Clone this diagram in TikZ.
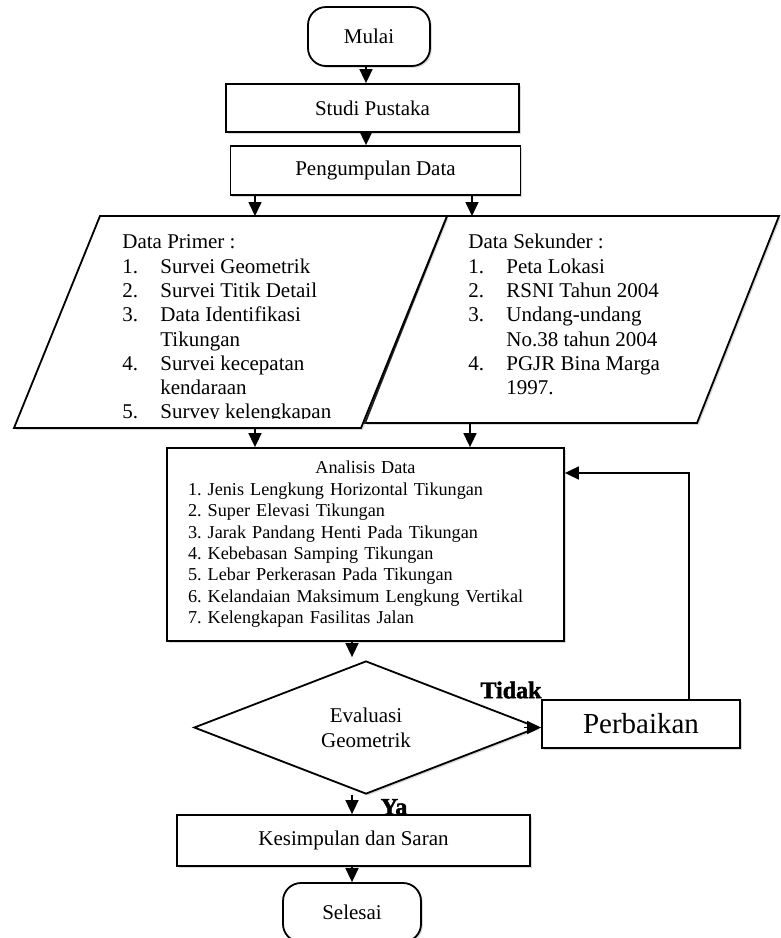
\documentclass[tikz,border=0pt]{standalone}
\usepackage{fontspec}
\setmainfont{Liberation Serif}
\newfontfamily\tebal[FakeBold=2]{Liberation Serif}
\usetikzlibrary{arrows.meta}
\usetikzlibrary{shapes.geometric}
\usetikzlibrary{shadows}
\frenchspacing

\begin{document}
\begin{tikzpicture}[x=0.5pt, y=-0.5pt,
        box/.style = {draw, line width=0.9pt, fill=white, inner sep=0pt,
            drop shadow={shadow xshift=0.9pt, shadow yshift=-0.9pt, opacity=0.3},
            font=\fontsize{10.5}{12}\selectfont},
        ujung/.style = {box, rounded corners=9pt},
        panah/.style = {line width=0.8pt, -{Triangle[length=7pt, width=6.5pt]}},
        jawab/.style = {inner sep=0pt, font=\tebal\bfseries\fontsize{12}{14}\selectfont},
        daftar/.style = {anchor=north west, align=left, inner sep=0pt,
            font=\fontsize{10.5}{12.15}\selectfont}]

        \useasboundingbox (0,0) rectangle (781,938);
        \clip (0,0) rectangle (781,938);

        \node[ujung, minimum width=61pt, minimum height=29.5pt] (mulai) at (369,36.5) {\raisebox{-2pt}{Mulai}};
        \node[box, minimum width=146.5pt, minimum height=24pt] (studi) at (372.5,108) {Studi Pustaka};
        \node[box, minimum width=145pt, minimum height=24.5pt] (kumpul) at (375.5,170.5) {Pengumpulan Data};

        % data sekunder
        \coordinate (s1) at (447,216);
        \coordinate (s2) at (779,216);
        \coordinate (s3) at (697,423);
        \coordinate (s4) at (365,423);
        \draw[box] (s1) -- (s2) -- (s3) -- (s4) -- cycle;
        \node[daftar] (sekunder) at (468,234) {Data Sekunder :\\
            \makebox[19pt][l]{1.}Peta Lokasi\\
            \makebox[19pt][l]{2.}RSNI Tahun 2004\\
            \makebox[19pt][l]{3.}Undang-undang\\
            \hspace*{19pt}No.38 tahun 2004\\
            \makebox[19pt][l]{4.}PGJR Bina Marga\\
            \hspace*{19pt}1997.};

        % data primer
        \coordinate (p1) at (100,216);
        \coordinate (p2) at (447,216);
        \coordinate (p3) at (361,428);
        \coordinate (p4) at (14,428);
        \draw[box] (p1) -- (p2) -- (p3) -- (p4) -- cycle;
        \begin{scope}
            \clip (0,216) rectangle (781,418);
            \node[daftar] (primer) at (122,234.5) {Data Primer :\\
                \makebox[19pt][l]{1.}Survei Geometrik\\
                \makebox[19pt][l]{2.}Survei Titik Detail\\
                \makebox[19pt][l]{3.}Data Identifikasi\\
                \hspace*{19pt}Tikungan\\
                \makebox[19pt][l]{4.}Survei kecepatan\\
                \hspace*{19pt}kendaraan\\
                \makebox[19pt][l]{5.}Survey kelengkapan};
        \end{scope}

        \node[box, minimum width=198.5pt, minimum height=96.5pt, text width=177.5pt, align=left,
            font=\fontsize{9.1}{10.7}\selectfont] (analisis) at (365.5,544.5)
            {\makebox[\linewidth]{Analisis Data}\\
            1. Jenis Lengkung Horizontal Tikungan\\
            2. Super Elevasi Tikungan\\
            3. Jarak Pandang Henti Pada Tikungan\\
            4. Kebebasan Samping Tikungan\\
            5. Lebar Perkerasan Pada Tikungan\\
            6. Kelandaian Maksimum Lengkung Vertikal\\
            7. Kelengkapan Fasilitas Jalan};

        \node[box, diamond, minimum width=172pt, minimum height=66.5pt, align=center,
            font=\fontsize{10.5}{12.5}\selectfont] (evaluasi) at (366,727.5) {Evaluasi\\Geometrik};
        \node[box, minimum width=99pt, minimum height=24pt,
            font=\fontsize{14.5}{17}\selectfont] (perbaikan) at (641,724) {Perbaikan};
        \node[box, minimum width=176.5pt, minimum height=25.5pt] (simpul) at (353.5,840.5) {Kesimpulan dan Saran};
        \node[ujung, minimum width=69pt, minimum height=29.5pt] (selesai) at (352,912.5) {\raisebox{-1pt}{Selesai}};

        \node[jawab] (tidak) at (511,690) {Tidak};
        \node[jawab] (ya) at (394,807) {Ya};

        % connectors
        \coordinate (atas) at (366,0);
        \coordinate (pmasuk) at (255,216);
        \coordinate (smasuk) at (472,216);
        \coordinate (pkeluar) at (255,428);
        \coordinate (skeluar) at (470,423);
        \coordinate (sumbu) at (352,0);
        \coordinate (balik) at (689,473);

        \draw[panah] (mulai.south -| atas) -- (studi.north -| atas);
        \draw[panah] (studi.south -| atas) -- (kumpul.north -| atas);
        \draw[panah] (kumpul.south -| pmasuk) -- (pmasuk);
        \draw[panah] (kumpul.south -| smasuk) -- (smasuk);
        \draw[panah] (pkeluar) -- (analisis.north -| pkeluar);
        \draw[panah] (skeluar) -- (analisis.north -| skeluar);
        \draw[panah] (analisis.south -| sumbu) -- ([yshift=1.5pt]evaluasi.north -| sumbu);
        \draw[panah] ([xshift=-7.5pt]evaluasi.east) -- (evaluasi.east -| perbaikan.west);
        \draw[panah] (evaluasi.south -| sumbu) -- (simpul.north -| sumbu);
        \draw[panah] (simpul.south -| sumbu) -- (selesai.north -| sumbu);
        \draw[panah] (perbaikan.north -| balik) -- (balik) -- (analisis.east |- balik);
    \end{tikzpicture}
\end{document}
